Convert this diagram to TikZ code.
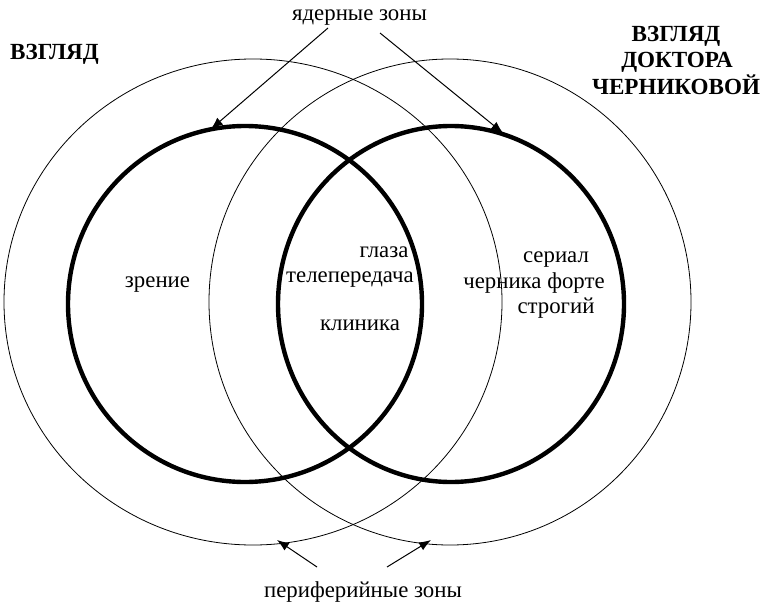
\documentclass[tikz,border=0pt]{standalone}
\usepackage{fontspec}
\setmainfont{Liberation Serif}
\usetikzlibrary{arrows.meta}
\begin{document}
\begin{tikzpicture}[x=1pt,y=-1pt,
  thin circ/.style={line width=0.8pt},
  thick circ/.style={line width=4.4pt},
  lbl/.style={font=\fontsize{22.8}{26}\selectfont, inner sep=0pt, anchor=base},
  head/.style={font=\bfseries\fontsize{23.1}{26.5}\selectfont, inner sep=0pt, anchor=base},
  arr/.style={line width=1pt, -{Latex[length=12pt,width=9pt]}}]
\useasboundingbox (0,0) rectangle (762,604);
% circles
\draw[thin circ] (253,302) ellipse [x radius=249pt, y radius=243pt];
\draw[thin circ] (450,302) ellipse [x radius=241pt, y radius=243pt];
\draw[thick circ] (245,304) ellipse [x radius=177pt, y radius=178pt];
\draw[thick circ] (451,304) ellipse [x radius=173pt, y radius=178pt];
% labels
\node[lbl] (core) at (359.5,21) {ядерные зоны};
\node[lbl] (peri) at (363,597) {периферийные зоны};
\node[head] (v1) at (54.5,60) {ВЗГЛЯД};
\node[head] (v2a) at (676,42) {ВЗГЛЯД};
\node[head] (v2b) at (677,68) {ДОКТОРА};
\node[head] (v2c) at (676,95) {ЧЕРНИКОВОЙ};
\node[lbl] (zr) at (157.5,287) {зрение};
\node[lbl] (gl) at (384,257) {глаза};
\node[lbl] (tp) at (350,282) {телепередача};
\node[lbl] (kl) at (360,330) {клиника};
\node[lbl] (se) at (556,262) {сериал};
\node[lbl] (cf) at (534,288) {черника форте};
\node[lbl] (st) at (556,313) {строгий};
% arrow coordinates
\coordinate (c1t) at (328,28);
\coordinate (c1h) at (211,129);
\coordinate (c2t) at (380,33);
\coordinate (c2h) at (503,133);
\coordinate (p1t) at (317,567);
\coordinate (p1h) at (277,540);
\coordinate (p2t) at (387,567);
\coordinate (p2h) at (431,540);
\draw[arr] (c1t) -- (c1h);
\draw[arr] (c2t) -- (c2h);
\draw[arr] (p1t) -- (p1h);
\draw[arr] (p2t) -- (p2h);
\end{tikzpicture}
\end{document}
